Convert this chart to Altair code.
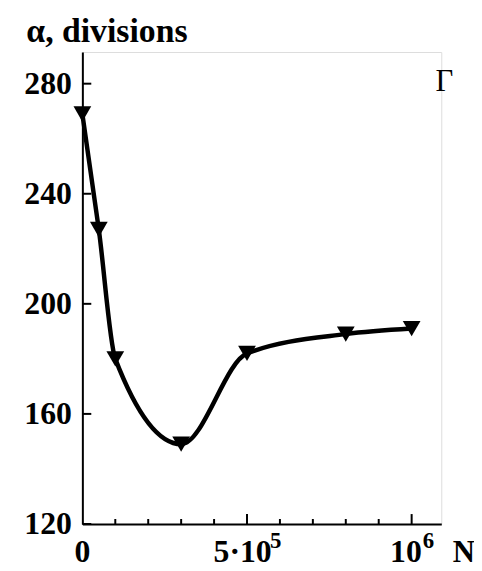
import altair as alt
import pandas as pd

# data
N_vals = [0, 50000, 100000, 300000, 500000, 800000, 1000000]
alpha_vals = [269, 227, 180, 149, 182, 189, 191]

y_tick_vals = [120, 160, 200, 240, 280]
x_minor_vals = [100000, 200000, 300000, 400000, 600000, 700000, 800000, 900000]
x_major_vals = [500000, 1000000]
x_label_vals = [0, 500000, 1000000]
x_label_base = ["0", "5·10", "10"]
x_label_sup = ["", "5", "6"]

FONT = "Liberation Serif"
W, H = 362, 476
LBL = 32   # tick label size
SUP = 23   # superscript size

xs = alt.Scale(domain=[0, 1090000], nice=False, zero=False)
ys = alt.Scale(domain=[120, 291.5], nice=False, zero=False)

x_axis = alt.Axis(
    values=x_label_vals, labels=False, ticks=False, grid=False,
    domainColor="black", domainWidth=2,
    title="N", titleFont=FONT, titleFontSize=31, titleFontWeight="bold",
    titleColor="black", titleAlign="left", titleBaseline="alphabetic",
    titleX=373, titleY=38,
)
y_axis = alt.Axis(
    values=y_tick_vals, ticks=False, grid=False,
    domainColor="black", domainWidth=2, labelFont=FONT, labelFontSize=LBL,
    labelFontWeight="bold", labelColor="black", labelPadding=11,
    title="α, divisions", titleFont=FONT, titleFontSize=34,
    titleFontWeight="bold", titleColor="black", titleAngle=0,
    titleAlign="left", titleBaseline="alphabetic", titleX=-57, titleY=-11,
    labelFlush=False, labelOverlap=False,
)

df = pd.DataFrame({"N": N_vals, "alpha": alpha_vals})

line = alt.Chart(df).mark_line(
    color="black", strokeWidth=4.5, interpolate="monotone"
).encode(
    x=alt.X("N:Q", scale=xs, axis=x_axis),
    y=alt.Y("alpha:Q", scale=ys, axis=y_axis),
)

pts = alt.Chart(df).mark_point(
    shape="triangle-down", filled=True, color="black", size=320, opacity=1
).encode(
    x=alt.X("N:Q", scale=xs, axis=x_axis),
    y=alt.Y("alpha:Q", scale=ys, axis=y_axis),
)

ytk = alt.Chart(pd.DataFrame({"alpha": y_tick_vals})).mark_rule(
    color="black", strokeWidth=2
).encode(
    y=alt.Y("alpha:Q", scale=ys, axis=y_axis),
    x=alt.value(0), x2=alt.value(9),
)

xminor = alt.Chart(pd.DataFrame({"N": x_minor_vals})).mark_rule(
    color="black", strokeWidth=2
).encode(
    x=alt.X("N:Q", scale=xs, axis=x_axis),
    y=alt.value(H), y2=alt.value(H - 5),
)

xmajor = alt.Chart(pd.DataFrame({"N": x_major_vals})).mark_rule(
    color="black", strokeWidth=2
).encode(
    x=alt.X("N:Q", scale=xs, axis=x_axis),
    y=alt.value(H), y2=alt.value(H - 10),
)

# approximate glyph advance widths (em) for centring base+superscript labels
ADV = {"·": 0.25}


def text_w(s, size):
    return sum(ADV.get(c, 0.5) for c in s) * size


label_layers = []
for v, b, s in zip(x_label_vals, x_label_base, x_label_sup):
    wb = text_w(b, LBL)
    ws = text_w(s, SUP)
    total = wb + ws
    d = pd.DataFrame({"N": [v], "t": [b], "s": [s]})
    label_layers.append(
        alt.Chart(d).mark_text(
            align="left", baseline="alphabetic", font=FONT, fontSize=LBL,
            fontWeight="bold", color="black", dx=-total / 2,
        ).encode(x=alt.X("N:Q", scale=xs, axis=x_axis), y=alt.value(H + 38),
                 text="t:N")
    )
    if s:
        label_layers.append(
            alt.Chart(d).mark_text(
                align="left", baseline="alphabetic", font=FONT, fontSize=SUP,
                fontWeight="bold", color="black", dx=-total / 2 + wb + 1,
            ).encode(x=alt.X("N:Q", scale=xs, axis=x_axis),
                     y=alt.value(H + 24), text="s:N")
        )

chart = alt.layer(ytk, xminor, xmajor, line, pts, *label_layers).properties(
    width=W, height=H,
    autosize=alt.AutoSizeParams(type="none"),
    padding={"left": 75, "top": 42, "right": 33, "bottom": 44},
    title=alt.TitleParams(
        "Γ", anchor="end", frame="group", font=FONT, fontSize=31,
        fontWeight="normal", color="black", dy=88, dx=12,
    ),
).configure_view(stroke=None).configure(background="white")

chart.save("out.html", embed_options={"renderer": "svg", "actions": False})
